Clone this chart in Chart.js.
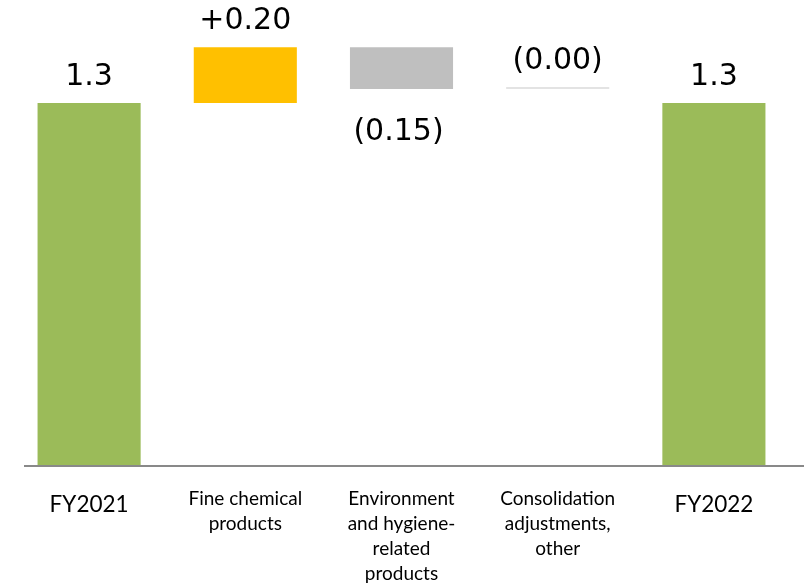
<!DOCTYPE html>
<html>
<head>
<meta charset="utf-8">
<script src="https://cdn.jsdelivr.net/npm/chart.js@4"></script>
<style>
  html, body { margin: 0; padding: 0; background: #fff; }
  #wrap { width: 804px; height: 584px; }
</style>
</head>
<body>
<div id="wrap"><canvas id="bridge"></canvas></div>
<script>
// Operating profit bridge, FY2021 -> FY2022
const categories = [
    'FY2021',
    ['Fine chemical', 'products'],
    ['Environment', 'and hygiene-', 'related', 'products'],
    ['Consolidation', 'adjustments,', 'other'],
    'FY2022'
];
const steps = [1.30, 0.20, -0.15, 0.00, 1.30];
const isTotal = [true, false, false, false, true];
const valueLabels = ['1.3', '+0.20', '(0.15)', '(0.00)', '1.3'];
const barColors = ['#9BBB59', '#FFC000', '#BFBFBF', '#E3E3E3', '#9BBB59'];

// build floating [start, end] ranges from the step values
const ranges = [];
let running = 0;
steps.forEach(function(v, i) {
    if (isTotal[i]) {
        ranges.push([0, v]);
        running = v;
    } else {
        ranges.push([running, running + v]);
        running += v;
    }
});

// value text above (or below, for decreases) each bar
const valueTextPlugin = {
    id: 'valueText',
    afterDatasetsDraw(chart) {
        const ctx = chart.ctx;
        const bars = chart.getDatasetMeta(0).data;
        ctx.save();
        ctx.font = '30px "DejaVu Sans"';
        ctx.fillStyle = '#000';
        ctx.textAlign = 'center';
        bars.forEach(function(bar, i) {
            const top = Math.min(bar.y, bar.base);
            const bottom = Math.max(bar.y, bar.base);
            if (steps[i] < 0) {
                ctx.textBaseline = 'top';
                ctx.fillText(valueLabels[i], bar.x - 3, bottom + 28);
            } else {
                ctx.textBaseline = 'alphabetic';
                ctx.fillText(valueLabels[i], bar.x, top - 18);
            }
        });
        ctx.restore();
    }
};

// baseline under the bars
const baselinePlugin = {
    id: 'baseline',
    beforeDatasetsDraw(chart) {
        const ctx = chart.ctx;
        const y = chart.scales.y.getPixelForValue(0) + 1;
        ctx.save();
        ctx.strokeStyle = '#898989';
        ctx.lineWidth = 2;
        ctx.beginPath();
        ctx.moveTo(chart.chartArea.left + 13, y);
        ctx.lineTo(chart.width, y);
        ctx.stroke();
        ctx.restore();
    }
};

new Chart(document.getElementById('bridge'), {
    type: 'bar',
    data: {
        labels: categories,
        datasets: [{
            data: ranges,
            backgroundColor: barColors,
            borderWidth: 0,
            minBarLength: 2,
            categoryPercentage: 1,
            barPercentage: 0.66
        }]
    },
    options: {
        responsive: true,
        maintainAspectRatio: false,
        animation: false,
        layout: { padding: { left: 11, right: 12, top: 0, bottom: 0 } },
        plugins: {
            legend: { display: false },
            tooltip: { enabled: false }
        },
        scales: {
            x: {
                grid: { display: false },
                border: { display: false },
                afterFit: function(scale) { scale.height = 119; },
                ticks: {
                    color: '#000',
                    padding: 14,
                    maxRotation: 0,
                    autoSkip: false,
                    font: function(c) {
                        const big = c.index === 0 || c.index === 4;
                        return { family: 'Lato', size: big ? 22.5 : 19, lineHeight: big ? 1.55 : 1.3 };
                    }
                }
            },
            y: {
                display: false,
                min: 0,
                max: 1.67
            }
        }
    },
    plugins: [baselinePlugin, valueTextPlugin]
});
</script>
</body>
</html>
